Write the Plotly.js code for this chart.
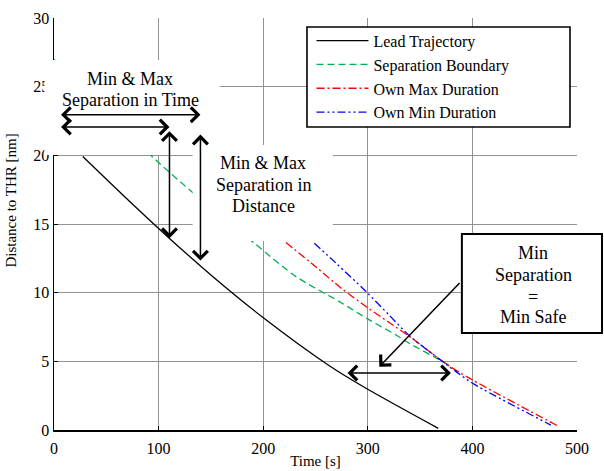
<!DOCTYPE html>
<html>
<head>
<meta charset="utf-8">
<script src="https://cdn.plot.ly/plotly-3.0.1.min.js"></script>
<style>
  html, body { margin: 0; padding: 0; background: #fff; }
  #chart { width: 604px; height: 471px; }
</style>
</head>
<body>
<div id="chart"></div>
<script>
// Lead aircraft trajectory: time [s] vs distance to threshold [nm]
const leadTime = [27.5, 78.5, 110.4, 151.4, 199.5, 263.2, 298.3, 367.4];
const leadDist = [19.92, 16.2, 13.95, 11.2, 8.21, 4.68, 3.04, 0.12];

// Separation boundary behind the lead
const sepTime = [0, 95.4, 132.6, 191.6, 231.4, 272.8, 301.4, 327, 340, 370, 378];
const sepDist = [27.0, 19.8, 17.3, 13.6, 11.17, 9.35, 8.02, 6.92, 6.3, 5.05, 4.7];

// Own aircraft, maximum-duration profile
const maxTime = [221.8, 250, 275, 300, 320, 340, 376.3, 400.2, 483];
const maxDist = [13.65, 11.9, 10.3, 8.9, 7.85, 6.8, 4.74, 3.64, 0.24];

// Own aircraft, minimum-duration profile
const minTime = [248.9, 269.6, 298.3, 320, 340, 360, 384.3, 400.2, 475];
const minDist = [13.6, 12.15, 10.08, 8.4, 6.85, 5.65, 4.25, 3.40, 0.36];

const seriesNames = ['Lead Trajectory', 'Separation Boundary', 'Own Max Duration', 'Own Min Duration'];

const serif = 'Liberation Serif, Times New Roman, serif';

const traces = [
  { x: leadTime, y: leadDist, name: seriesNames[0], mode: 'lines',
    line: { color: '#000000', width: 1.3, shape: 'spline', smoothing: 0.8 } },
  { x: sepTime, y: sepDist, name: seriesNames[1], mode: 'lines',
    line: { color: '#00b050', width: 1.3, dash: '7px,4px', shape: 'spline', smoothing: 0.8 } },
  { x: maxTime, y: maxDist, name: seriesNames[2], mode: 'lines',
    line: { color: '#ff0000', width: 1.3, dash: '8px,3px,2px,3px', shape: 'spline', smoothing: 0.8 } },
  { x: minTime, y: minDist, name: seriesNames[3], mode: 'lines',
    line: { color: '#0000ff', width: 1.3, dash: '8px,3px,2px,3px,2px,3px', shape: 'spline', smoothing: 0.8 } }
];

// Annotation arrows (double-headed unless noted)
function arrow(x, y, ax, ay, both) {
  return {
    x: x, y: y, ax: ax, ay: ay, xref: 'x', yref: 'y', axref: 'x', ayref: 'y',
    text: '', showarrow: true, arrowhead: 4, startarrowhead: 4,
    arrowside: both ? 'end+start' : 'end',
    arrowsize: 1.9, startarrowsize: 1.9, arrowwidth: 1.5, arrowcolor: '#000000',
    standoff: 0, startstandoff: 0
  };
}
function label(x, y, txt) {
  return {
    x: x, y: y, xref: 'x', yref: 'y', text: txt, showarrow: false,
    xanchor: 'center', yanchor: 'middle',
    font: { family: serif, size: 18, color: '#000000' }
  };
}

const annotations = [
  arrow(140, 22.96, 5.3, 22.96, true),
  arrow(110.4, 22.06, 5.3, 22.06, true),
  arrow(110.4, 13.97, 110.4, 21.87, true),
  arrow(140, 12.34, 140, 21.62, true),
  arrow(379.5, 4.15, 279.2, 4.15, true),
  arrow(311, 4.61, 389.1, 10.81, false),

  label(73.1, 25.58, 'Min &amp; Max'),
  label(73.1, 24.0, 'Separation in Time'),

  label(200.2, 19.44, 'Min &amp; Max'),
  label(200.2, 17.86, 'Separation in'),
  label(200.2, 16.28, 'Distance'),

  label(458, 12.90, 'Min'),
  label(458, 11.30, 'Separation'),
  label(458, 9.72, '='),
  label(458, 8.26, 'Min Safe'),

  { x: -0.0813, y: 0.558, xref: 'paper', yref: 'paper', text: 'Distance to THR [nm]',
    textangle: -90, showarrow: false, xanchor: 'center', yanchor: 'middle',
    font: { family: serif, size: 15, color: '#000000' } }
];

// White panels behind the call-out texts, the framed note box and the legend frame
const shapes = [
  { type: 'rect', xref: 'paper', yref: 'paper', layer: 'above',
    x0: -0.0182, x1: 0.3167, y0: 0.6675, y1: 0.898,
    fillcolor: '#ffffff', line: { width: 0 } },
  { type: 'rect', xref: 'paper', yref: 'paper', layer: 'above',
    x0: 0.2651, x1: 0.533, y0: 0.4587, y1: 0.6917,
    fillcolor: '#ffffff', line: { width: 0 } },
  { type: 'rect', xref: 'paper', yref: 'paper', layer: 'above',
    x0: 0.7799, x1: 1.0478, y0: 0.2354, y1: 0.4757,
    fillcolor: '#ffffff', line: { width: 2, color: '#000000' } },
  { type: 'rect', xref: 'paper', yref: 'paper', layer: 'above',
    x0: 0.4837, x1: 0.9866, y0: 0.7354, y1: 0.9782,
    fillcolor: '#ffffff', line: { width: 1.6, color: '#000000' } }
];

const layout = {
  width: 604, height: 471,
  margin: { l: 54, r: 27, t: 18, b: 41 },
  paper_bgcolor: '#ffffff', plot_bgcolor: '#ffffff',
  font: { family: serif, size: 16, color: '#000000' },
  showlegend: true,
  legend: {
    x: 0.4923, y: 0.986, xanchor: 'left', yanchor: 'top',
    bgcolor: 'rgba(0,0,0,0)', borderwidth: 0,
    font: { family: serif, size: 16, color: '#000000' },
    itemwidth: 52
  },
  xaxis: {
    range: [0, 500], dtick: 100, tick0: 0,
    showgrid: true, gridcolor: '#939393', gridwidth: 1,
    zeroline: false, showline: true, linecolor: '#000000', linewidth: 1.5,
    ticks: 'inside', ticklen: 4, tickcolor: '#000000',
    tickfont: { family: serif, size: 16 }, ticklabelstandoff: 3,
    title: { text: 'Time [s]', font: { family: serif, size: 15 }, standoff: 0 }
  },
  yaxis: {
    range: [0, 30], dtick: 5, tick0: 0,
    showgrid: true, gridcolor: '#939393', gridwidth: 1,
    zeroline: false, showline: true, linecolor: '#000000', linewidth: 1.5,
    ticks: 'inside', ticklen: 4, tickcolor: '#000000',
    tickfont: { family: serif, size: 16 }
  },
  annotations: annotations,
  shapes: shapes
};

Plotly.newPlot('chart', traces, layout, { staticPlot: true, displayModeBar: false });
</script>
</body>
</html>
